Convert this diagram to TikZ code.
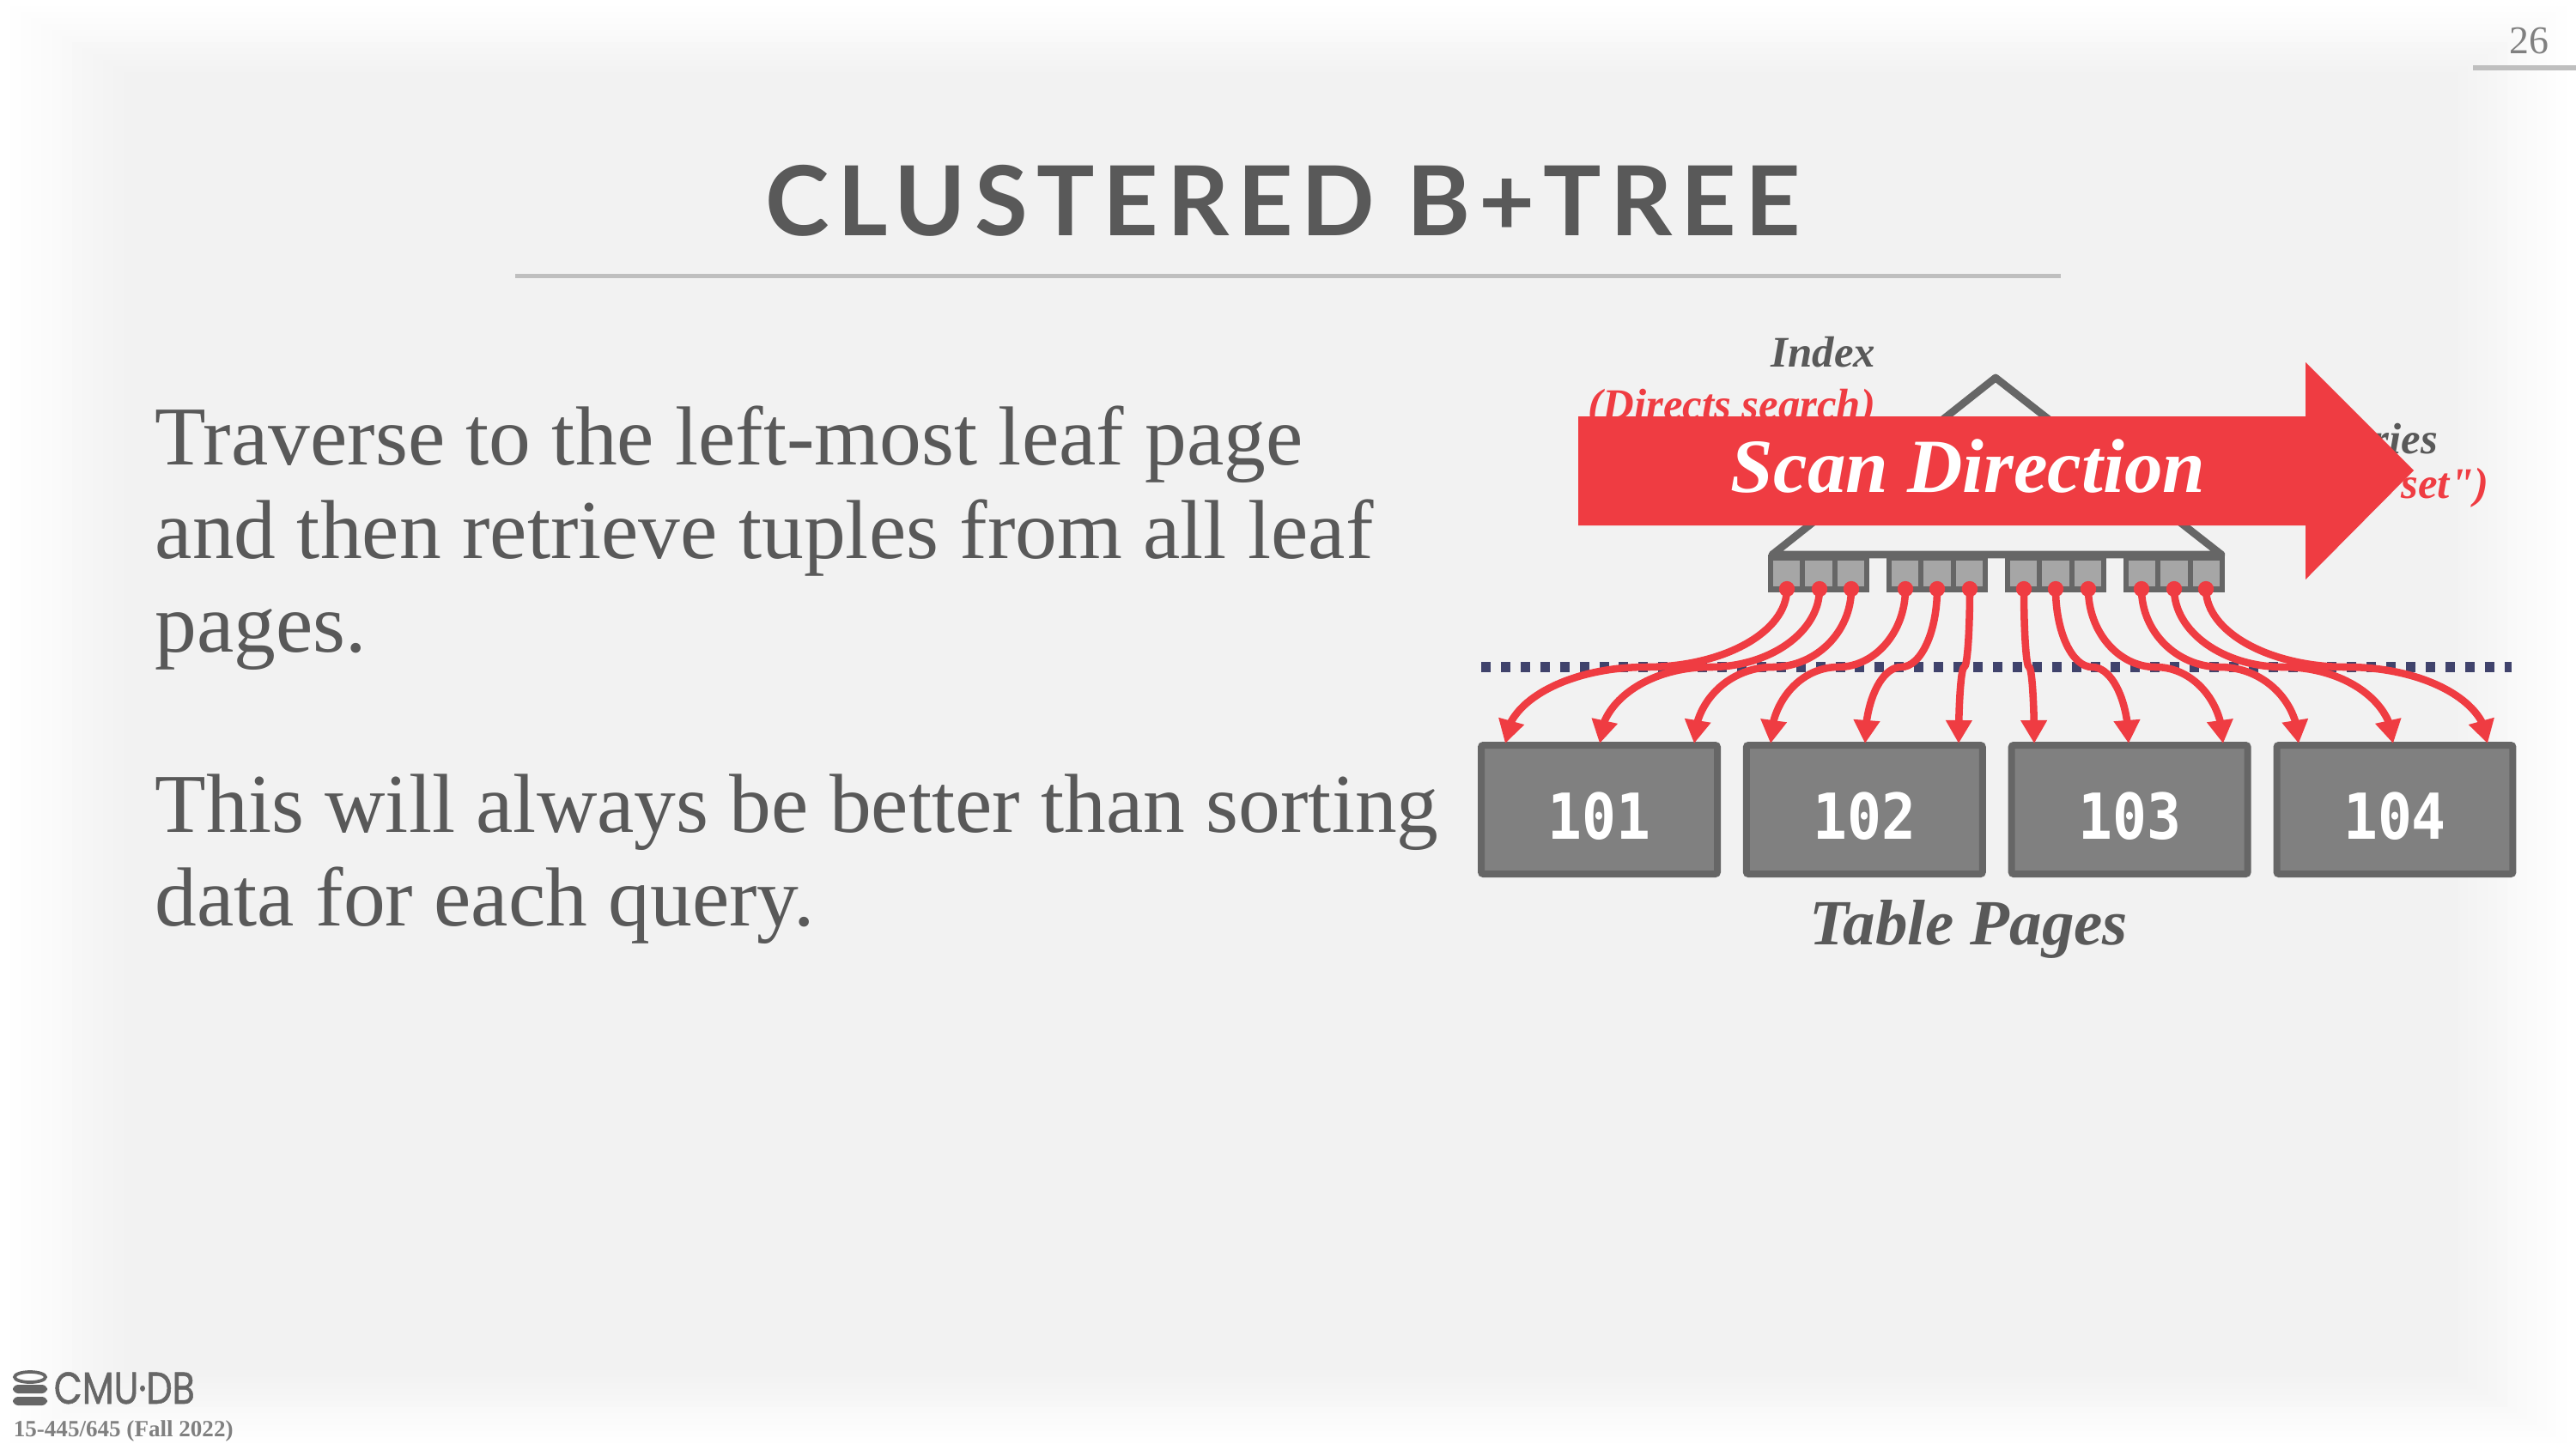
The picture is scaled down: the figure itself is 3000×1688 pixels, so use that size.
\documentclass[tikz,border=0pt]{standalone}
\usepackage{fontspec}
\usetikzlibrary{positioning,arrows.meta,bending}
\setmainfont{Liberation Serif}
\newfontfamily\notefont{Liberation Serif}
\newfontfamily\titlefont[LetterSpace=8.8]{Lato}
\newfontfamily\logofont[FakeStretch=0.82,FakeBold=1]{Poppins}
\newfontfamily\pagefont[FakeStretch=0.9]{DejaVu Sans Mono}
\definecolor{slidegray}{HTML}{F2F2F2}
\definecolor{textgray}{HTML}{595959}
\definecolor{rulegray}{HTML}{BFBFBF}
\definecolor{boxgray}{HTML}{666666}
\definecolor{scanred}{HTML}{EF3C42}
\definecolor{dotnavy}{HTML}{40436C}

\begin{document}
\begin{tikzpicture}[
    x=0.24pt, y=-0.24pt,
    node distance=6.2pt,
    pagebox/.style={rectangle, draw=boxgray, fill=black!50, line width=1.92pt, rounded corners=0.6pt, minimum width=66pt, minimum height=36pt, inner sep=0pt, text=white, text height=16.6pt, text depth=0pt, font=\pagefont\bfseries\fontsize{17.7}{18}\selectfont},
    leafcell/.style={rectangle, draw=boxgray, fill=black!35, line width=1.5pt, minimum width=9pt, minimum height=8.9pt, inner sep=0pt},
    leafdot/.style={circle, fill=scanred, inner sep=0pt, minimum size=4.4pt},
    fanline/.style={draw=scanred, line width=2.05pt, -{Triangle[length=6.5pt,width=7pt,flex=1]}},
    indexlabel/.style={anchor=base east, inner sep=0pt, font=\bfseries\itshape\fontsize{12.2}{14}\selectfont},
    bodytext/.style={anchor=north west, align=left, inner sep=0pt, text=textgray, font=\fontsize{23.4}{26.2}\selectfont},
    ]
    \useasboundingbox (0,0) rectangle (3000,1688);

    %Background
    \fill[white] (0,0) rectangle (3000,1688);
    \foreach \i in {1,...,12} {
        \pgfmathsetmacro{\shade}{100*\i/12}
        \fill[slidegray!\shade!white] (12*\i,7*\i) rectangle ({3000-11.5*\i},{1688-7*\i});
    }

    %Title and page number
    \node[anchor=base, inner sep=0pt, text=textgray, font=\titlefont\bfseries\fontsize{27}{27}\selectfont] (title) at (1494,274) {CLUSTERED B+TREE};
    \draw[rulegray, line width=1.2pt] (600,321) -- (2400,321);
    \node[anchor=base east, inner sep=0pt, text=black!50, font=\fontsize{11}{11}\selectfont] (pagenum) at (2969,62) {26};
    \draw[rulegray, line width=1.4pt] (2880,79) -- (3000,79);

    %Text
    \node[bodytext] (para1) at (180,472) {Traverse to the left-most leaf page\\and then retrieve tuples from all leaf\\pages.};
    \node[bodytext] (para2) at (180,901) {This will always be better than sorting\\data for each query.};

    %Table pages
    \draw[dotnavy, line width=2.88pt, dash pattern=on 2.64pt off 2.86pt] (1725,777) -- (2925,777);
    \node[pagebox] (page1) at (1862.5,943) {101};
    \node[pagebox] (page2) [right=of page1] {102};
    \node[pagebox] (page3) [right=of page2] {103};
    \node[pagebox] (page4) [right=of page3] {104};
    \node[anchor=base, inner sep=0pt, text=textgray, font=\bfseries\itshape\fontsize{18}{20}\selectfont] (tablelabel) at (2293,1100) {Table Pages};

    %Index
    \node[indexlabel, text=textgray] (indexname) at (2185,427) {Index};
    \node[indexlabel, text=scanred] (indexnote) at (2185,488) {(Directs search)};
    \node[indexlabel, text=textgray] (entryname) at (2840,528) {ries};
    \node[indexlabel, text=scanred] (entrynote) at (2899,580) {\notefont e set")};
    \draw[boxgray, line width=2.1pt, line join=round] (2324,440) -- (2587,646) -- (2064,646) -- cycle;
    \foreach \i/\x in {1/2080.5,2/2118,3/2155.5,4/2218.5,5/2256,6/2293.5,7/2356.5,8/2394,9/2431.5,10/2494.5,11/2532,12/2569.5} {
        \node[leafcell] (cell\i) at (\x,668) {};
    }

    %Lines
    \foreach \i/\xa/\xb in {1/2081/1753,2/2119/1863,3/2156/1973,4/2219/2062,5/2256/2172,6/2294/2281,7/2357/2369,8/2394/2479,9/2432/2589,10/2494/2677,11/2532/2787,12/2569/2897} {
        \pgfmathsetmacro{\xm}{(\xa+\xb)/2}
        \node[leafdot] (dot\i) at (\xa,686) {};
        \coordinate (tip\i) at (\xb,866);
        \draw[fanline] (dot\i.center) .. controls (\xa,736) and ({\xm+0.55*(\xa-\xm)},777) .. (\xm,777)
            .. controls ({\xm-0.55*(\xa-\xm)},777) and (\xb,817) .. (tip\i);
    }

    %Scan arrow
    \fill[scanred] (1838,485) -- (2685,485) -- (2685,422) -- (2811,548) -- (2685,675) -- (2685,612) -- (1838,612) -- cycle;
    \node[anchor=base, inner sep=0pt, text=white, font=\bfseries\itshape\fontsize{21.4}{24}\selectfont] (scanlabel) at (2292,573) {Scan Direction};

    %Footer
    \draw[boxgray, line width=0.9pt] (35,1604) ellipse (18 and 6);
    \fill[boxgray, rounded corners=1.5pt] (15,1613) rectangle (55,1623);
    \fill[boxgray, rounded corners=1.5pt] (15,1627) rectangle (55,1637);
    \node[anchor=base west, inner sep=0pt, text=boxgray, font=\logofont\fontsize{12.5}{12.5}\selectfont] (logo) at (62,1635) {CMU·DB};
    \node[anchor=base west, inner sep=0pt, text=black!50, font=\bfseries\fontsize{6.5}{8}\selectfont] (course) at (15,1673) {15-445/645 (Fall 2022)};
\end{tikzpicture}
\end{document}
